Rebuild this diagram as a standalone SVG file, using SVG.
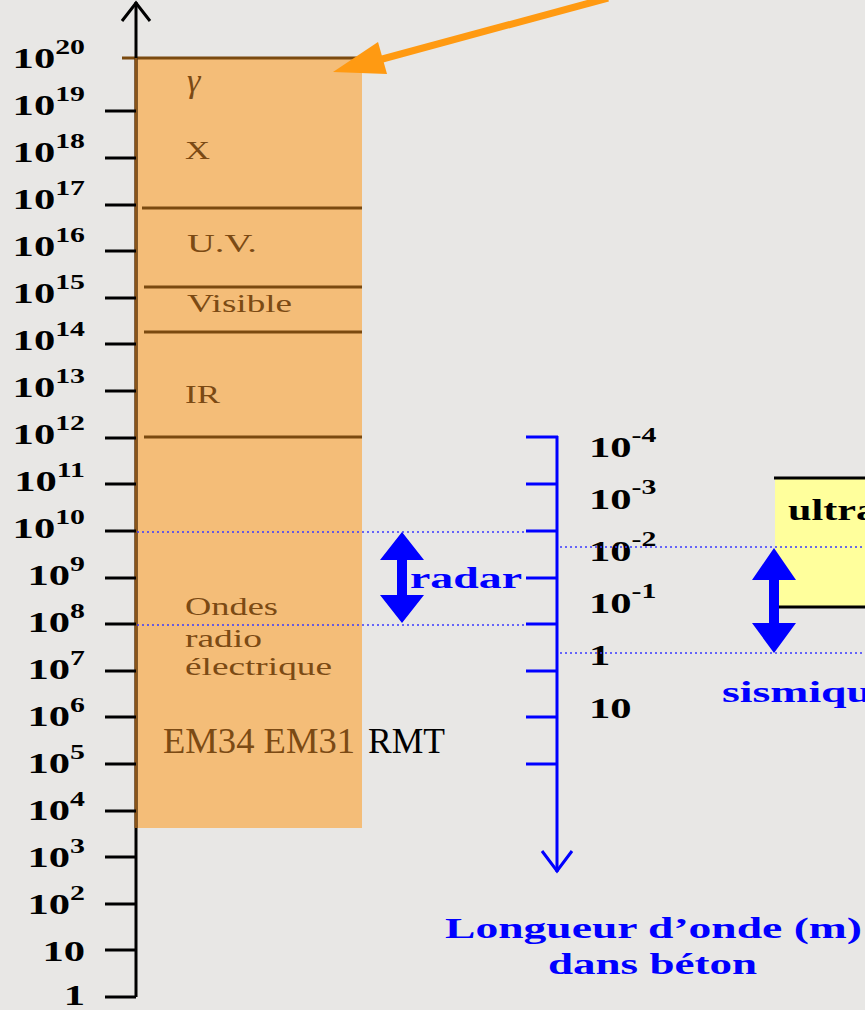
<svg xmlns="http://www.w3.org/2000/svg" width="865" height="1010" viewBox="0 0 865 1010">
<style>
.lbl{font-family:"Liberation Serif","Times New Roman",serif;font-weight:bold;font-size:30px;fill:#000}
.sup{font-size:21px}
.brown{font-family:"Liberation Serif","Times New Roman",serif;font-size:26px;fill:#7b4a14}
.blue{font-family:"Liberation Serif","Times New Roman",serif;font-weight:bold;font-size:29px;fill:#0000ff}
.tick{stroke:#000;stroke-width:3}
.btick{stroke:#0000ff;stroke-width:3}
.bline{stroke:#7a4a10;stroke-width:3}
.dot{stroke:#3a3aff;stroke-width:1.6;stroke-dasharray:2 3;fill:none}
</style>
<rect width="865" height="1010" fill="#e8e7e5"/>

<g id="band">
  <rect x="136" y="58" width="226" height="770" fill="#f4bd78"/>
  <line class="bline" x1="122" y1="58" x2="362" y2="58"/>
  <line class="bline" x1="142" y1="208" x2="362" y2="208"/>
  <line class="bline" x1="144" y1="287" x2="362" y2="287"/>
  <line class="bline" x1="144" y1="332" x2="362" y2="332"/>
  <line class="bline" x1="144" y1="437" x2="362" y2="437"/>
  <text class="brown" x="187" y="92" style="font-style:italic;font-size:34px">γ</text>
  <text class="brown" x="185" y="159" textLength="25" lengthAdjust="spacingAndGlyphs">X</text>
  <text class="brown" x="187" y="252" textLength="70" lengthAdjust="spacingAndGlyphs">U.V.</text>
  <text class="brown" x="187" y="312" textLength="105" lengthAdjust="spacingAndGlyphs">Visible</text>
  <text class="brown" x="185" y="403" textLength="35" lengthAdjust="spacingAndGlyphs">IR</text>
  <text class="brown" x="185" y="615" textLength="93" lengthAdjust="spacingAndGlyphs">Ondes</text>
  <text class="brown" x="185" y="647" textLength="77" lengthAdjust="spacingAndGlyphs">radio</text>
  <text class="brown" x="185" y="675" textLength="147" lengthAdjust="spacingAndGlyphs">électrique</text>
  <text class="brown" x="163" y="753" style="font-size:35px" textLength="192" lengthAdjust="spacingAndGlyphs">EM34 EM31</text>
  <text x="368" y="753" font-family="Liberation Serif, Times New Roman, serif" font-size="35" fill="#000" textLength="77" lengthAdjust="spacingAndGlyphs">RMT</text>
</g>

<g id="frequency-axis">
  <line x1="136" y1="2" x2="136" y2="997" stroke="#000" stroke-width="3"/>
  <line x1="136" y1="58" x2="136" y2="828" stroke="#8a5418" stroke-width="3"/>
  <polyline points="122,21 136,3 150,21" fill="none" stroke="#000" stroke-width="3"/>
  <line class="tick" x1="105" y1="111" x2="136" y2="111"/>
  <line class="tick" x1="105" y1="158" x2="136" y2="158"/>
  <line class="tick" x1="105" y1="205" x2="136" y2="205"/>
  <line class="tick" x1="105" y1="251" x2="136" y2="251"/>
  <line class="tick" x1="105" y1="298" x2="136" y2="298"/>
  <line class="tick" x1="105" y1="344" x2="136" y2="344"/>
  <line class="tick" x1="105" y1="391" x2="136" y2="391"/>
  <line class="tick" x1="105" y1="438" x2="136" y2="438"/>
  <line class="tick" x1="105" y1="484" x2="136" y2="484"/>
  <line class="tick" x1="105" y1="531" x2="136" y2="531"/>
  <line class="tick" x1="105" y1="578" x2="136" y2="578"/>
  <line class="tick" x1="105" y1="624" x2="136" y2="624"/>
  <line class="tick" x1="105" y1="671" x2="136" y2="671"/>
  <line class="tick" x1="105" y1="717" x2="136" y2="717"/>
  <line class="tick" x1="105" y1="764" x2="136" y2="764"/>
  <line class="tick" x1="105" y1="811" x2="136" y2="811"/>
  <line class="tick" x1="105" y1="857" x2="136" y2="857"/>
  <line class="tick" x1="105" y1="904" x2="136" y2="904"/>
  <line class="tick" x1="105" y1="950" x2="136" y2="950"/>
  <line class="tick" x1="105" y1="997" x2="136" y2="997"/>
  <g text-anchor="end">
    <text class="lbl" transform="translate(85,68) scale(1.42,1)">10<tspan class="sup" dy="-14">20</tspan></text>
    <text class="lbl" transform="translate(85,115) scale(1.42,1)">10<tspan class="sup" dy="-14">19</tspan></text>
    <text class="lbl" transform="translate(85,162) scale(1.42,1)">10<tspan class="sup" dy="-14">18</tspan></text>
    <text class="lbl" transform="translate(85,209) scale(1.42,1)">10<tspan class="sup" dy="-14">17</tspan></text>
    <text class="lbl" transform="translate(85,256) scale(1.42,1)">10<tspan class="sup" dy="-14">16</tspan></text>
    <text class="lbl" transform="translate(85,303) scale(1.42,1)">10<tspan class="sup" dy="-14">15</tspan></text>
    <text class="lbl" transform="translate(85,350) scale(1.42,1)">10<tspan class="sup" dy="-14">14</tspan></text>
    <text class="lbl" transform="translate(85,397) scale(1.42,1)">10<tspan class="sup" dy="-14">13</tspan></text>
    <text class="lbl" transform="translate(85,444) scale(1.42,1)">10<tspan class="sup" dy="-14">12</tspan></text>
    <text class="lbl" transform="translate(85,491) scale(1.42,1)">10<tspan class="sup" dy="-14">11</tspan></text>
    <text class="lbl" transform="translate(85,538) scale(1.42,1)">10<tspan class="sup" dy="-14">10</tspan></text>
    <text class="lbl" transform="translate(85,585) scale(1.42,1)">10<tspan class="sup" dy="-14">9</tspan></text>
    <text class="lbl" transform="translate(85,632) scale(1.42,1)">10<tspan class="sup" dy="-14">8</tspan></text>
    <text class="lbl" transform="translate(85,679) scale(1.42,1)">10<tspan class="sup" dy="-14">7</tspan></text>
    <text class="lbl" transform="translate(85,726) scale(1.42,1)">10<tspan class="sup" dy="-14">6</tspan></text>
    <text class="lbl" transform="translate(85,773) scale(1.42,1)">10<tspan class="sup" dy="-14">5</tspan></text>
    <text class="lbl" transform="translate(85,820) scale(1.42,1)">10<tspan class="sup" dy="-14">4</tspan></text>
    <text class="lbl" transform="translate(85,867) scale(1.42,1)">10<tspan class="sup" dy="-14">3</tspan></text>
    <text class="lbl" transform="translate(85,914) scale(1.42,1)">10<tspan class="sup" dy="-14">2</tspan></text>
    <text class="lbl" transform="translate(85,961) scale(1.42,1)">10</text>
    <text class="lbl" transform="translate(85,1005) scale(1.42,1)">1</text>
  </g>
</g>

<g id="wavelength-axis">
  <line x1="557" y1="436" x2="557" y2="872" stroke="#0000ff" stroke-width="3"/>
  <polyline points="542,851 557,871 572,851" fill="none" stroke="#0000ff" stroke-width="3"/>
  <line class="btick" x1="526" y1="437" x2="558" y2="437"/>
  <line class="btick" x1="526" y1="484" x2="557" y2="484"/>
  <line class="btick" x1="526" y1="531" x2="557" y2="531"/>
  <line class="btick" x1="526" y1="578" x2="557" y2="578"/>
  <line class="btick" x1="526" y1="624" x2="557" y2="624"/>
  <line class="btick" x1="526" y1="671" x2="557" y2="671"/>
  <line class="btick" x1="526" y1="717" x2="557" y2="717"/>
  <line class="btick" x1="526" y1="764" x2="557" y2="764"/>
  <text class="lbl" transform="translate(589,457) scale(1.42,1)">10<tspan class="sup" dy="-15">-4</tspan></text>
  <text class="lbl" transform="translate(589,509) scale(1.42,1)">10<tspan class="sup" dy="-15">-3</tspan></text>
  <text class="lbl" transform="translate(589,561) scale(1.42,1)">10<tspan class="sup" dy="-15">-2</tspan></text>
  <text class="lbl" transform="translate(589,613) scale(1.42,1)">10<tspan class="sup" dy="-15">-1</tspan></text>
  <text class="lbl" transform="translate(589,665) scale(1.42,1)">1</text>
  <text class="lbl" transform="translate(589,718) scale(1.42,1)">10</text>
  <text class="blue" x="445" y="938" textLength="417" lengthAdjust="spacingAndGlyphs">Longueur d’onde (m)</text>
  <text class="blue" x="548" y="974" textLength="209" lengthAdjust="spacingAndGlyphs">dans béton</text>
</g>

<g id="ultrasons">
  <rect x="775" y="478" width="95" height="129" fill="#ffff9c"/>
  <line x1="774" y1="478" x2="865" y2="478" stroke="#000" stroke-width="3"/>
  <line x1="778" y1="607" x2="865" y2="607" stroke="#000" stroke-width="3"/>
  <text x="788" y="520" font-family="Liberation Serif, Times New Roman, serif" font-weight="bold" font-size="29" fill="#000" textLength="89" lengthAdjust="spacingAndGlyphs">ultra</text>
</g>

<g id="radar">
  <text class="blue" x="410" y="588" textLength="112" lengthAdjust="spacingAndGlyphs">radar</text>
</g>

<g id="sismique">
  <text class="blue" x="722" y="702" textLength="150" lengthAdjust="spacingAndGlyphs">sismiqu</text>
</g>

<g id="connectors">
  <line class="dot" x1="137" y1="532" x2="526" y2="532"/>
  <line class="dot" x1="137" y1="625" x2="526" y2="625"/>
  <line class="dot" x1="560" y1="547" x2="865" y2="547"/>
  <line class="dot" x1="560" y1="653" x2="865" y2="653"/>
  <polygon fill="#0000ff" points="402,532 424,560 407,560 407,595 424,595 402,623 380,595 397,595 397,560 380,560"/>
  <polygon fill="#0000ff" points="774,548 796,580 779,580 779,623 796,623 774,653 752,623 769,623 769,580 752,580"/>
  <line x1="608" y1="-2" x2="375" y2="61" stroke="#ff9a12" stroke-width="7"/>
  <polygon fill="#ff9a12" points="333,72 378,42 387,74"/>
</g>
</svg>
